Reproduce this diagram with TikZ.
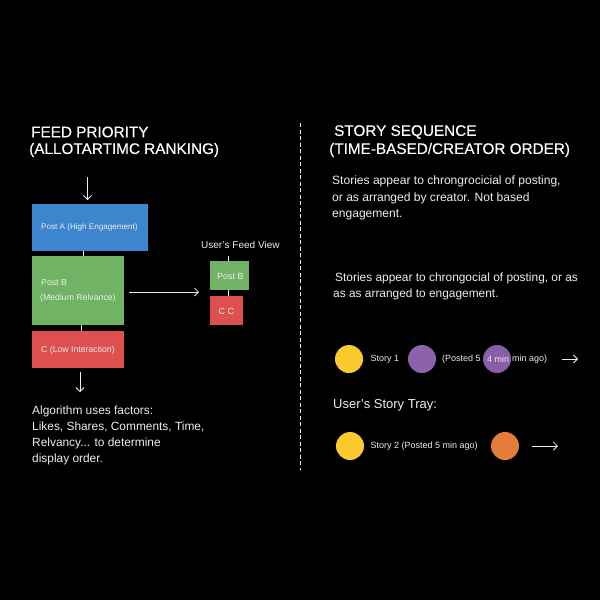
\documentclass[tikz,border=0pt]{standalone}
\usepackage{fontspec}
\usetikzlibrary{arrows.meta}
\setmainfont{Liberation Sans}
\newfontfamily\titlefont[FakeBold=0.25]{Liberation Sans}
\definecolor{postblue}{HTML}{3D85CC}
\definecolor{postgreen}{HTML}{70B364}
\definecolor{postred}{HTML}{DE4F4F}
\definecolor{storyyellow}{HTML}{FBCB2E}
\definecolor{storypurple}{HTML}{8C62AD}
\definecolor{storyorange}{HTML}{E67C3A}
\definecolor{softwhite}{HTML}{EDEDED}
\tikzset{
  title/.style={text=white,anchor=west,font=\titlefont\fontsize{15.3}{18}\selectfont,inner sep=0pt},
  body/.style={text=softwhite,anchor=north west,align=left,font=\fontsize{11.9}{16.2}\selectfont,inner sep=0pt},
  small/.style={text=softwhite,anchor=west,font=\fontsize{9}{11}\selectfont,inner sep=0pt},
  boxtext/.style={small,font=\fontsize{8.7}{11}\selectfont},
  post/.style={anchor=north west,inner sep=0pt,outer sep=0pt},
  story/.style={circle,minimum size=28pt,inner sep=0pt},
  link/.style={draw=softwhite,line width=0.7pt},
  flow/.style={draw=softwhite,line width=0.8pt,-{Straight Barb[length=4pt,width=8pt]}}
}
\begin{document}
\begin{tikzpicture}[x=1pt,y=-1pt]
\useasboundingbox[fill=black] (0,0) rectangle (600,600);
% left column
\node[title] (feedA) at (31,132) {FEED PRIORITY};
\node[title] (feedB) at (29,150) {(ALLOTARTIMC RANKING)};
\node[post,fill=postblue,minimum width=116pt,minimum height=47pt] (postA) at (32,204) {};
\node[post,fill=postgreen,minimum width=92pt,minimum height=69pt] (postB) at (32,256) {};
\node[post,fill=postred,minimum width=92pt,minimum height=37pt] (postC) at (32,331) {};
\node[boxtext,font=\fontsize{8.1}{11}\selectfont] (textA) at (41,227) {Post A (High Engagement)};
\node[boxtext] (textB) at (41,283) {Post B};
\node[boxtext] (textBB) at (40,298) {(Medium Relvance)};
\node[boxtext] (textC) at (41,350) {C (Low Interaction)};
\coordinate (inTop) at (87.5,177);
\coordinate (outEnd) at (80,392);
\draw[flow] (inTop) -- ([shift={(-2.5pt,4pt)}]postA.north);
\draw[flow] ([shift={(2pt,-4pt)}]postC.south) -- (outEnd);
\draw[link] (83,0 |- postA.south) -- (83,0 |- postB.north);
\draw[link] (81,0 |- postB.south) -- (81,0 |- postC.north);
% feed view
\node[small,font=\fontsize{10}{12}\selectfont] (viewLabel) at (201,244.5) {User's Feed View};
\node[post,fill=postgreen,minimum width=39pt,minimum height=29pt] (viewB) at (210,261) {};
\node[post,fill=postred,minimum width=33pt,minimum height=29pt] (viewC) at (210,296) {};
\node[small] (viewBtext) at (217,276) {Post B};
\node[small] (viewCtext) at (218.5,311) {C C};
\coordinate (viewTop) at (228,256);
\draw[link] (viewTop) -- (228,0 |- viewB.north);
\draw[link] (228,0 |- viewB.south) -- (228,0 |- viewC.north);
\coordinate (flowEnd) at (199,292);
\draw[flow] ([shift={(5pt,-1.5pt)}]postB.east) -- (flowEnd);
\node[body] (factors) at (32,405.5) {Algorithm uses factors:\\Likes, Shares, Comments, Time,\\Relvancy... to determine\\display order.};
% divider
\coordinate (divTop) at (300.5,123);
\coordinate (divEnd) at (300.5,470);
\draw[softwhite,line width=0.9pt,dash pattern=on 4pt off 2.5pt] (divTop) -- (divEnd);
% right column
\node[title] (storyA) at (334,132) {STORY SEQUENCE};
\node[title] (storyB) at (329,150) {(TIME-BASED/CREATOR ORDER)};
\node[body,font=\fontsize{12.05}{16.2}\selectfont] (introA) at (332,176) {Stories appear to chrongrocicial of posting,\\or as arranged by creator. Not based\\engagement.};
\node[body] (introB) at (335,273) {Stories appear to chrongocial of posting, or as};
\node[body] (introC) at (333,289) {as as arranged to engagement.};
\foreach \name/\x/\y/\col in {yellowA/349/359/storyyellow, purpleA/422/359/storypurple, yellowB/350/446/storyyellow, orangeB/505/446/storyorange} {
  \node[story,fill=\col] (\name) at (\x,\y) {};
};
\node[small] (storyOne) at (370.5,359.5) {Story 1};
\node[small] (postedA) at (442,359.5) {(Posted 5};
\node[small] (postedB) at (512,359.5) {min ago)};
\node[story,fill=storypurple,opacity=0.97] (purpleB) at (497,359) {};
\node[small] (postedC) at (487,359.5) {4 min};
\node[body,anchor=west,font=\fontsize{13}{15}\selectfont] (trayLabel) at (333,405) {User's Story Tray:};
\node[small] (storyTwo) at (370.5,446) {Story 2 (Posted 5 min ago)};
\coordinate (arrowA) at (562,359);
\coordinate (arrowAend) at (578,359);
\coordinate (arrowB) at (532,446);
\coordinate (arrowBend) at (558,446);
\draw[flow] (arrowA) -- (arrowAend);
\draw[flow] (arrowB) -- (arrowBend);
\end{tikzpicture}
\end{document}
